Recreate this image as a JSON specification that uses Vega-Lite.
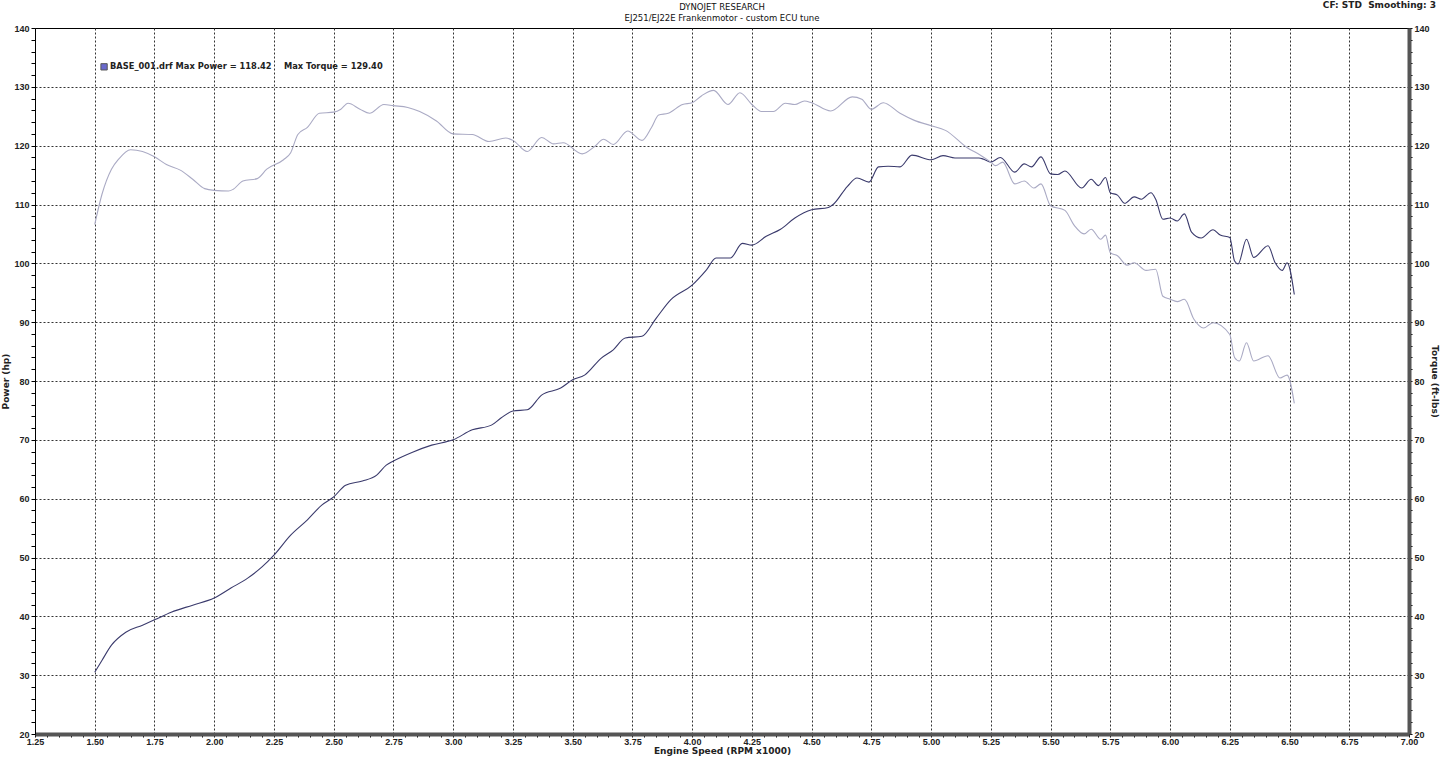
{
  "$schema": "https://vega.github.io/schema/vega-lite/v6.json",
  "width": 1374,
  "height": 706,
  "autosize": {"type": "none"},
  "padding": {"left": 35, "top": 28, "right": 31, "bottom": 23},
  "background": "white",
  "config": {
    "view": {"stroke": "#000", "strokeWidth": 1},
    "font": "DejaVu Sans",
    "axis": {
      "labelFont": "Liberation Sans",
      "labelFontWeight": "bold",
      "labelFontSize": 9,
      "labelColor": "#222",
      "titleFont": "DejaVu Sans",
      "titleFontWeight": "bold",
      "titleFontSize": 9,
      "titleColor": "#222",
      "tickColor": "#000",
      "tickCount": 300,
      "labelOverlap": false,
      "labelBound": false,
      "labelFlush": false
    }
  },
  "datasets": {
    "power": [
      {"rpm": 1.50, "hp": 30.5}, {"rpm": 1.53, "hp": 32.5}, {"rpm": 1.57, "hp": 35.1}, {"rpm": 1.63, "hp": 37.3},
      {"rpm": 1.70, "hp": 38.5}, {"rpm": 1.75, "hp": 39.4}, {"rpm": 1.82, "hp": 40.7}, {"rpm": 1.91, "hp": 41.9},
      {"rpm": 2.00, "hp": 43.1}, {"rpm": 2.07, "hp": 44.8}, {"rpm": 2.14, "hp": 46.5}, {"rpm": 2.20, "hp": 48.4},
      {"rpm": 2.25, "hp": 50.4}, {"rpm": 2.32, "hp": 53.8}, {"rpm": 2.39, "hp": 56.4}, {"rpm": 2.45, "hp": 58.9},
      {"rpm": 2.50, "hp": 60.3}, {"rpm": 2.55, "hp": 62.3}, {"rpm": 2.62, "hp": 63.0}, {"rpm": 2.68, "hp": 64.0},
      {"rpm": 2.72, "hp": 65.7}, {"rpm": 2.75, "hp": 66.4}, {"rpm": 2.83, "hp": 67.9}, {"rpm": 2.91, "hp": 69.1},
      {"rpm": 3.00, "hp": 70.0}, {"rpm": 3.08, "hp": 71.7}, {"rpm": 3.16, "hp": 72.5}, {"rpm": 3.20, "hp": 73.7},
      {"rpm": 3.25, "hp": 74.9}, {"rpm": 3.31, "hp": 75.1}, {"rpm": 3.37, "hp": 77.6}, {"rpm": 3.45, "hp": 78.8},
      {"rpm": 3.50, "hp": 80.2}, {"rpm": 3.55, "hp": 81.0}, {"rpm": 3.62, "hp": 83.9}, {"rpm": 3.67, "hp": 85.3},
      {"rpm": 3.72, "hp": 87.3}, {"rpm": 3.79, "hp": 87.6}, {"rpm": 3.85, "hp": 90.7}, {"rpm": 3.91, "hp": 93.8},
      {"rpm": 4.00, "hp": 96.3}, {"rpm": 4.06, "hp": 98.9}, {"rpm": 4.10, "hp": 100.9}, {"rpm": 4.16, "hp": 100.9},
      {"rpm": 4.21, "hp": 103.4}, {"rpm": 4.25, "hp": 103.1}, {"rpm": 4.31, "hp": 104.6}, {"rpm": 4.37, "hp": 105.8},
      {"rpm": 4.43, "hp": 107.7}, {"rpm": 4.50, "hp": 109.1}, {"rpm": 4.57, "hp": 109.5}, {"rpm": 4.59, "hp": 110.0},
      {"rpm": 4.65, "hp": 113.1}, {"rpm": 4.69, "hp": 114.5}, {"rpm": 4.74, "hp": 113.8}, {"rpm": 4.78, "hp": 116.4},
      {"rpm": 4.82, "hp": 116.5}, {"rpm": 4.87, "hp": 116.4}, {"rpm": 4.92, "hp": 118.4}, {"rpm": 5.00, "hp": 117.6},
      {"rpm": 5.05, "hp": 118.3}, {"rpm": 5.10, "hp": 117.9}, {"rpm": 5.20, "hp": 117.9}, {"rpm": 5.22, "hp": 117.7},
      {"rpm": 5.25, "hp": 117.2}, {"rpm": 5.29, "hp": 118.0}, {"rpm": 5.35, "hp": 115.5}, {"rpm": 5.39, "hp": 116.9},
      {"rpm": 5.42, "hp": 116.4}, {"rpm": 5.46, "hp": 118.1}, {"rpm": 5.50, "hp": 115.2}, {"rpm": 5.53, "hp": 115.1},
      {"rpm": 5.56, "hp": 115.7}, {"rpm": 5.63, "hp": 112.8}, {"rpm": 5.67, "hp": 114.3}, {"rpm": 5.70, "hp": 113.2},
      {"rpm": 5.73, "hp": 114.6}, {"rpm": 5.75, "hp": 112.0}, {"rpm": 5.78, "hp": 111.6}, {"rpm": 5.81, "hp": 110.2},
      {"rpm": 5.85, "hp": 111.3}, {"rpm": 5.88, "hp": 110.9}, {"rpm": 5.92, "hp": 112.0}, {"rpm": 5.94, "hp": 110.9},
      {"rpm": 5.97, "hp": 107.5}, {"rpm": 6.00, "hp": 107.7}, {"rpm": 6.03, "hp": 107.2}, {"rpm": 6.06, "hp": 108.4},
      {"rpm": 6.09, "hp": 105.3}, {"rpm": 6.13, "hp": 104.3}, {"rpm": 6.18, "hp": 105.7}, {"rpm": 6.21, "hp": 104.8},
      {"rpm": 6.25, "hp": 104.4}, {"rpm": 6.27, "hp": 100.4}, {"rpm": 6.285, "hp": 99.9}, {"rpm": 6.32, "hp": 104.1},
      {"rpm": 6.35, "hp": 101.0}, {"rpm": 6.41, "hp": 103.0}, {"rpm": 6.44, "hp": 100.1}, {"rpm": 6.47, "hp": 98.8},
      {"rpm": 6.49, "hp": 100.1}, {"rpm": 6.52, "hp": 94.7}
    ],
    "torque": [
      {"rpm": 1.50, "tq": 106.6}, {"rpm": 1.53, "tq": 111.7}, {"rpm": 1.57, "tq": 116.0}, {"rpm": 1.60, "tq": 117.7},
      {"rpm": 1.65, "tq": 119.3}, {"rpm": 1.70, "tq": 119.0}, {"rpm": 1.75, "tq": 118.1}, {"rpm": 1.80, "tq": 116.8},
      {"rpm": 1.86, "tq": 115.8}, {"rpm": 1.91, "tq": 114.3}, {"rpm": 1.96, "tq": 112.7}, {"rpm": 2.00, "tq": 112.4},
      {"rpm": 2.06, "tq": 112.3}, {"rpm": 2.08, "tq": 112.6}, {"rpm": 2.12, "tq": 114.0}, {"rpm": 2.18, "tq": 114.4},
      {"rpm": 2.22, "tq": 116.0}, {"rpm": 2.29, "tq": 117.6}, {"rpm": 2.32, "tq": 118.8}, {"rpm": 2.35, "tq": 121.9},
      {"rpm": 2.39, "tq": 123.1}, {"rpm": 2.44, "tq": 125.5}, {"rpm": 2.50, "tq": 125.7}, {"rpm": 2.53, "tq": 126.2},
      {"rpm": 2.56, "tq": 127.2}, {"rpm": 2.61, "tq": 126.2}, {"rpm": 2.65, "tq": 125.5}, {"rpm": 2.71, "tq": 127.0},
      {"rpm": 2.75, "tq": 126.8}, {"rpm": 2.81, "tq": 126.5}, {"rpm": 2.86, "tq": 125.8}, {"rpm": 2.93, "tq": 124.2},
      {"rpm": 3.00, "tq": 122.0}, {"rpm": 3.08, "tq": 121.9}, {"rpm": 3.15, "tq": 120.7}, {"rpm": 3.22, "tq": 121.3},
      {"rpm": 3.25, "tq": 120.9}, {"rpm": 3.31, "tq": 119.0}, {"rpm": 3.37, "tq": 121.4}, {"rpm": 3.42, "tq": 120.3},
      {"rpm": 3.46, "tq": 120.5}, {"rpm": 3.54, "tq": 118.6}, {"rpm": 3.59, "tq": 119.8}, {"rpm": 3.63, "tq": 121.1},
      {"rpm": 3.67, "tq": 120.2}, {"rpm": 3.73, "tq": 122.5}, {"rpm": 3.79, "tq": 120.9}, {"rpm": 3.83, "tq": 123.1},
      {"rpm": 3.86, "tq": 125.2}, {"rpm": 3.90, "tq": 125.5}, {"rpm": 3.96, "tq": 127.0}, {"rpm": 4.00, "tq": 127.3},
      {"rpm": 4.04, "tq": 128.5}, {"rpm": 4.09, "tq": 129.4}, {"rpm": 4.15, "tq": 127.0}, {"rpm": 4.20, "tq": 129.0},
      {"rpm": 4.25, "tq": 127.0}, {"rpm": 4.29, "tq": 125.8}, {"rpm": 4.34, "tq": 125.8}, {"rpm": 4.39, "tq": 127.2},
      {"rpm": 4.43, "tq": 127.0}, {"rpm": 4.47, "tq": 127.6}, {"rpm": 4.50, "tq": 127.3}, {"rpm": 4.58, "tq": 125.9},
      {"rpm": 4.67, "tq": 128.3}, {"rpm": 4.71, "tq": 127.9}, {"rpm": 4.75, "tq": 126.2}, {"rpm": 4.80, "tq": 127.3},
      {"rpm": 4.87, "tq": 125.5}, {"rpm": 4.93, "tq": 124.3}, {"rpm": 5.00, "tq": 123.4}, {"rpm": 5.06, "tq": 122.6},
      {"rpm": 5.15, "tq": 119.7}, {"rpm": 5.21, "tq": 118.3}, {"rpm": 5.25, "tq": 117.2}, {"rpm": 5.27, "tq": 116.6},
      {"rpm": 5.30, "tq": 117.2}, {"rpm": 5.35, "tq": 113.5}, {"rpm": 5.39, "tq": 114.0}, {"rpm": 5.43, "tq": 112.8},
      {"rpm": 5.46, "tq": 113.5}, {"rpm": 5.50, "tq": 109.8}, {"rpm": 5.56, "tq": 109.0}, {"rpm": 5.60, "tq": 106.4},
      {"rpm": 5.64, "tq": 105.0}, {"rpm": 5.67, "tq": 105.8}, {"rpm": 5.71, "tq": 104.1}, {"rpm": 5.73, "tq": 104.8},
      {"rpm": 5.75, "tq": 101.8}, {"rpm": 5.78, "tq": 101.3}, {"rpm": 5.82, "tq": 99.7}, {"rpm": 5.85, "tq": 100.1},
      {"rpm": 5.90, "tq": 98.8}, {"rpm": 5.94, "tq": 99.0}, {"rpm": 5.97, "tq": 94.4}, {"rpm": 6.00, "tq": 93.9},
      {"rpm": 6.03, "tq": 93.5}, {"rpm": 6.06, "tq": 93.9}, {"rpm": 6.10, "tq": 90.5}, {"rpm": 6.14, "tq": 89.0},
      {"rpm": 6.18, "tq": 89.9}, {"rpm": 6.25, "tq": 87.9}, {"rpm": 6.27, "tq": 84.0}, {"rpm": 6.29, "tq": 83.4},
      {"rpm": 6.32, "tq": 86.5}, {"rpm": 6.35, "tq": 83.4}, {"rpm": 6.41, "tq": 84.3}, {"rpm": 6.46, "tq": 80.5},
      {"rpm": 6.49, "tq": 81.0}, {"rpm": 6.52, "tq": 76.2}
    ]
  },
  "resolve": {"scale": {"y": "independent"}, "axis": {"y": "independent"}},
  "layer": [
    {
      "data": {"name": "power"},
      "mark": {"type": "line", "color": "#3a3a6c", "strokeWidth": 1.1, "interpolate": "monotone"},
      "encoding": {
        "x": {
          "field": "rpm", "type": "quantitative",
          "scale": {"domain": [1.25, 7.0], "nice": false, "zero": false},
          "axis": {
            "title": "Engine Speed (RPM x1000)",
            "titlePadding": 0,
            "tickCount": 300,
            "values": [1.25,1.3,1.35,1.4,1.45,1.5,1.55,1.6,1.65,1.7,1.75,1.8,1.85,1.9,1.95,2,2.05,2.1,2.15,2.2,2.25,2.3,2.35,2.4,2.45,2.5,2.55,2.6,2.65,2.7,2.75,2.8,2.85,2.9,2.95,3,3.05,3.1,3.15,3.2,3.25,3.3,3.35,3.4,3.45,3.5,3.55,3.6,3.65,3.7,3.75,3.8,3.85,3.9,3.95,4,4.05,4.1,4.15,4.2,4.25,4.3,4.35,4.4,4.45,4.5,4.55,4.6,4.65,4.7,4.75,4.8,4.85,4.9,4.95,5,5.05,5.1,5.15,5.2,5.25,5.3,5.35,5.4,5.45,5.5,5.55,5.6,5.65,5.7,5.75,5.8,5.85,5.9,5.95,6,6.05,6.1,6.15,6.2,6.25,6.3,6.35,6.4,6.45,6.5,6.55,6.6,6.65,6.7,6.75,6.8,6.85,6.9,6.95,7],
            "labelExpr": "abs(datum.value*4 - round(datum.value*4)) < 0.001 ? format(datum.value, '.2f') : ''",
            "labelPadding": 0,
            "tickSize": 3,
            "domainColor": "#555",
            "domainWidth": 4,
            "grid": true,
            "gridColor": {"condition": {"test": "abs(datum.value*4 - round(datum.value*4)) < 0.001 && datum.value > 1.3 && datum.value < 6.9", "value": "#333"}, "value": "transparent"},
            "gridDash": [2, 2],
            "gridWidth": 1
          }
        },
        "y": {
          "field": "hp", "type": "quantitative",
          "scale": {"domain": [20, 140], "nice": false, "zero": false},
          "axis": {
            "orient": "left",
            "title": "Power (hp)",
            "titlePadding": 3,
            "tickCount": 300,
            "values": [20,22,24,26,28,30,32,34,36,38,40,42,44,46,48,50,52,54,56,58,60,62,64,66,68,70,72,74,76,78,80,82,84,86,88,90,92,94,96,98,100,102,104,106,108,110,112,114,116,118,120,122,124,126,128,130,132,134,136,138,140],
            "labelExpr": "datum.value % 10 === 0 ? format(datum.value, 'd') : ''",
            "tickSize": 4,
            "labelPadding": 2,
            "domainColor": "#000",
            "domainWidth": 1,
            "grid": true,
            "gridColor": {"condition": {"test": "datum.value % 10 === 0 && datum.value > 20 && datum.value < 140", "value": "#333"}, "value": "transparent"},
            "gridDash": [2, 2],
            "gridWidth": 1
          }
        }
      }
    },
    {
      "data": {"name": "torque"},
      "mark": {"type": "line", "color": "#aaaac4", "strokeWidth": 1.1, "interpolate": "monotone"},
      "encoding": {
        "x": {"field": "rpm", "type": "quantitative"},
        "y": {
          "field": "tq", "type": "quantitative",
          "scale": {"domain": [20, 140], "nice": false, "zero": false},
          "axis": {
            "orient": "right",
            "title": "Torque (ft-lbs)",
            "titlePadding": 0,
            "tickCount": 300,
            "values": [20,22,24,26,28,30,32,34,36,38,40,42,44,46,48,50,52,54,56,58,60,62,64,66,68,70,72,74,76,78,80,82,84,86,88,90,92,94,96,98,100,102,104,106,108,110,112,114,116,118,120,122,124,126,128,130,132,134,136,138,140],
            "labelExpr": "datum.value % 10 === 0 ? format(datum.value, 'd') : ''",
            "tickSize": 3,
            "labelPadding": 2,
            "domainColor": "#555",
            "domainWidth": 4,
            "grid": false
          }
        }
      }
    },
    {
      "data": {"values": [{"label": "BASE_001.drf"}]},
      "mark": {"type": "square", "filled": true, "color": "#2a2ab8", "stroke": "#111", "strokeWidth": 1, "size": 40},
      "encoding": {
        "x": {"datum": 1.539},
        "y": {"datum": 133.4, "scale": {"domain": [20, 140], "nice": false, "zero": false}, "axis": null}
      }
    },
    {
      "data": {"values": [{"label": "BASE_001.drf Max Power = 118.42"}]},
      "mark": {"type": "text", "align": "left", "baseline": "middle", "font": "DejaVu Sans", "fontWeight": "bold", "fontSize": 8.3, "color": "#222"},
      "encoding": {
        "x": {"datum": 1.564},
        "y": {"datum": 133.4, "scale": {"domain": [20, 140], "nice": false, "zero": false}, "axis": null},
        "text": {"field": "label"}
      }
    },
    {
      "data": {"values": [{"label": "Max Torque = 129.40"}]},
      "mark": {"type": "text", "align": "left", "baseline": "middle", "font": "DejaVu Sans", "fontWeight": "bold", "fontSize": 8.3, "color": "#222"},
      "encoding": {
        "x": {"datum": 2.292},
        "y": {"datum": 133.4, "scale": {"domain": [20, 140], "nice": false, "zero": false}, "axis": null},
        "text": {"field": "label"}
      }
    },
    {
      "data": {"values": [{"label": "DYNOJET RESEARCH"}]},
      "mark": {"type": "text", "align": "center", "baseline": "middle", "font": "DejaVu Sans", "fontSize": 8.5, "color": "#111"},
      "encoding": {
        "x": {"datum": 4.125},
        "y": {"datum": 143.6, "scale": {"domain": [20, 140], "nice": false, "zero": false}, "axis": null},
        "text": {"field": "label"}
      }
    },
    {
      "data": {"values": [{"label": "EJ251/EJ22E Frankenmotor - custom ECU tune"}]},
      "mark": {"type": "text", "align": "center", "baseline": "middle", "font": "DejaVu Sans", "fontSize": 8.5, "color": "#111"},
      "encoding": {
        "x": {"datum": 4.125},
        "y": {"datum": 141.7, "scale": {"domain": [20, 140], "nice": false, "zero": false}, "axis": null},
        "text": {"field": "label"}
      }
    },
    {
      "data": {"values": [{"label": "CF: STD\u00a0\u00a0Smoothing: 3"}]},
      "mark": {"type": "text", "align": "right", "baseline": "middle", "font": "DejaVu Sans", "fontWeight": "bold", "fontSize": 9, "color": "#222", "dx": 27},
      "encoding": {
        "x": {"datum": 7.0},
        "y": {"datum": 143.9, "scale": {"domain": [20, 140], "nice": false, "zero": false}, "axis": null},
        "text": {"field": "label"}
      }
    }
  ]
}
